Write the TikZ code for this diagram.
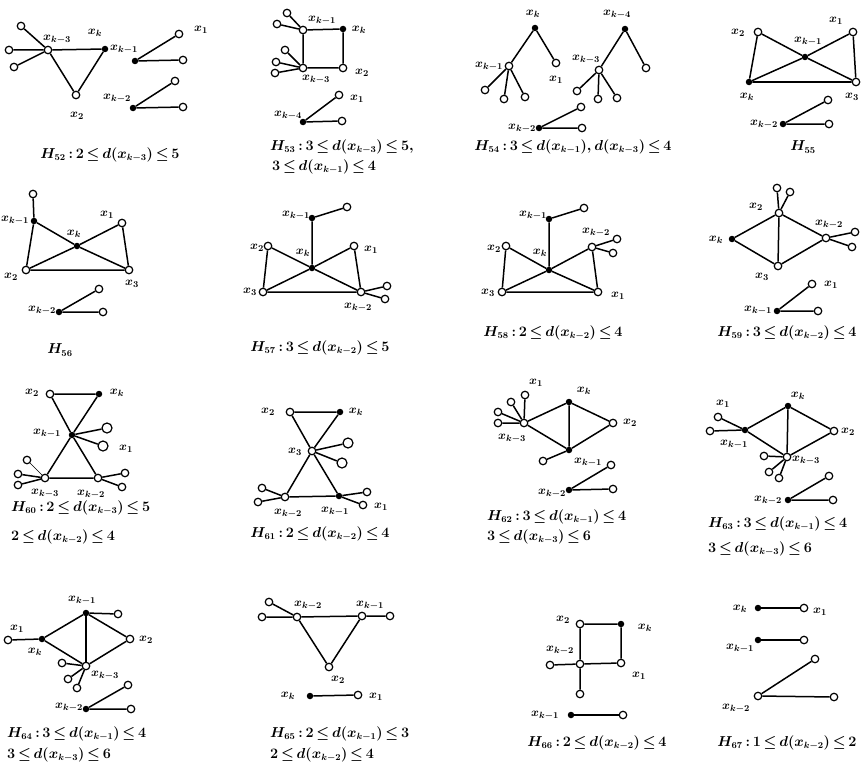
\documentclass[tikz,border=0pt]{standalone}
\usepackage{amsmath,amssymb}
\usepackage{tikz}
\usetikzlibrary{positioning}
\newcommand\tightmath{\thickmuskip=3mu\relax\medmuskip=2mu\relax}
\tikzset{
    every picture/.style={x=1pt, y=-1pt},
    % vertex styles
    openv/.style={circle,draw=black,fill=white,line width=1.2pt,inner sep=0pt,minimum size=7.5pt},
    bigv/.style={openv,minimum size=10pt},
    solidv/.style={circle,fill=black,inner sep=0pt,minimum size=6.5pt},
    % texts
    vlabel/.style={inner sep=0pt,font=\fontsize{13}{15}\selectfont\boldmath},
    caption/.style={inner sep=0pt,font=\fontsize{13.5}{16}\selectfont\boldmath\tightmath},
    % lines
    edge/.style={line width=1.5pt},
    thinedge/.style={line width=0.6pt}
}

\begin{document}
\begin{tikzpicture}
    \useasboundingbox (0,0) rectangle (862,768);

    % H52
    \node[openv] (a3) at (48,50) {};
    \node[openv] (ap1) at (21,26) {};
    \node[openv] (ap2) at (9,50) {};
    \node[openv] (ap3) at (14,67) {};
    \node[solidv] (ak) at (105,49) {};
    \node[openv] (a2) at (76,95) {};
    \node[solidv] (ak1) at (135,61) {};
    \node[openv] (aq1) at (179,34) {};
    \node[openv] (aq2) at (183,60) {};
    \node[solidv] (ak2) at (133,108) {};
    \node[openv] (ar1) at (175,81) {};
    \node[openv] (ar2) at (183,107) {};
    \node[vlabel] (a3L) at (57,39) {$x_{k-3}$};
    \node[vlabel] (akL) at (95,33) {$x_k$};
    \node[vlabel] (a2L) at (77,116) {$x_2$};
    \node[vlabel] (ak1L) at (124,49) {$x_{k-1}$};
    \node[vlabel] (a1L) at (201,30) {$x_1$};
    \node[vlabel] (ak2L) at (117,98) {$x_{k-2}$};
    \node[caption] (aC) at (110,155) {$H_{52}:2\le d(x_{k-3})\le 5$};
    \draw[edge] (a3) -- (ap1) (a3) -- (ap2) (a3) -- (ap3);
    \draw[edge] (a3) -- (ak) -- (a2) -- (a3);
    \draw[edge] (ak1) -- (aq1) (ak1) -- (aq2);
    \draw[edge] (ak2) -- (ar1) (ak2) -- (ar2);

    % H53
    \node[openv] (b1) at (303,30) {};
    \node[solidv] (bk) at (343,29) {};
    \node[openv] (b2) at (343,68) {};
    \node[openv] (b3) at (303,68) {};
    \node[openv] (bp1) at (287,13) {};
    \node[openv] (bp2) at (277,24) {};
    \node[openv] (bq1) at (285,50) {};
    \node[openv] (bq2) at (276,62) {};
    \node[openv] (bq3) at (275,73) {};
    \node[solidv] (b4) at (303,122) {};
    \node[openv] (br1) at (339,95) {};
    \node[openv] (br2) at (342,121) {};
    \node[vlabel] (b1L) at (322,20) {$x_{k-1}$};
    \node[vlabel] (bkL) at (359,30) {$x_k$};
    \node[vlabel] (b2L) at (362,73) {$x_2$};
    \node[vlabel] (b3L) at (316,79) {$x_{k-3}$};
    \node[vlabel] (b4L) at (288,115) {$x_{k-4}$};
    \node[vlabel] (bx1L) at (357,99) {$x_1$};
    \node[caption,anchor=west] (bC1) at (270,147) {$H_{53}:3\le d(x_{k-3})\le 5,$};
    \node[caption,anchor=west] (bC2) at (272,167) {$3\le d(x_{k-1})\le 4$};
    \draw[edge] (b1) -- (bk) -- (b2) -- (b3) -- (b1);
    \draw[edge] (b1) -- (bp1) (b1) -- (bp2);
    \draw[edge] (b3) -- (bq1) (b3) -- (bq2) (b3) -- (bq3);
    \draw[edge] (b4) -- (br1) (b4) -- (br2);

    % H54
    \node[solidv] (ck) at (535,28) {};
    \node[openv] (c1) at (509,66) {};
    \node[openv] (cx1) at (556,63) {};
    \node[openv] (cp1) at (485,90) {};
    \node[openv] (cp2) at (504,99) {};
    \node[openv] (cp3) at (525,97) {};
    \node[solidv] (c4) at (625,29) {};
    \node[openv] (c3) at (599,70) {};
    \node[openv] (cr) at (646,68) {};
    \node[openv] (cq1) at (577,91) {};
    \node[openv] (cq2) at (598,99) {};
    \node[openv] (cq3) at (617,98) {};
    \node[solidv] (c2) at (539,128) {};
    \node[openv] (cs1) at (581,107) {};
    \node[openv] (cs2) at (582,128) {};
    \node[vlabel] (ckL) at (533,14) {$x_k$};
    \node[vlabel] (c1L) at (489,66) {$x_{k-1}$};
    \node[vlabel] (cx1L) at (556,80) {$x_1$};
    \node[vlabel] (c4L) at (617,14) {$x_{k-4}$};
    \node[vlabel] (c3L) at (586,59) {$x_{k-3}$};
    \node[vlabel] (c2L) at (522,128) {$x_{k-2}$};
    \node[caption] (cC) at (573,147) {$H_{54}:3\le d(x_{k-1}),d(x_{k-3})\le 4$};
    \draw[edge] (c1) -- (ck) -- (cx1);
    \draw[edge] (c1) -- (cp1) (c1) -- (cp2) (c1) -- (cp3);
    \draw[edge] (c3) -- (c4) -- (cr);
    \draw[edge] (c3) -- (cq1) (c3) -- (cq2) (c3) -- (cq3);
    \draw[edge] (c2) -- (cs1) (c2) -- (cs2);

    % H55
    \node[openv] (d2) at (758,32) {};
    \node[openv] (d1) at (853,32) {};
    \node[solidv] (dc) at (805,57) {};
    \node[solidv] (dk) at (749,82) {};
    \node[openv] (d3) at (856,82) {};
    \node[solidv] (dk2) at (783,124) {};
    \node[openv] (ds1) at (828,100) {};
    \node[openv] (ds2) at (829,124) {};
    \node[vlabel] (d2L) at (738,33) {$x_2$};
    \node[vlabel] (d1L) at (836,21) {$x_1$};
    \node[vlabel] (dcL) at (808,41) {$x_{k-1}$};
    \node[vlabel] (dkL) at (747,97) {$x_k$};
    \node[vlabel] (d3L) at (852,97) {$x_3$};
    \node[vlabel] (dk2L) at (764,124) {$x_{k-2}$};
    \node[caption] (dC) at (803,147) {$H_{55}$};
    \draw[edge] (d2) -- (dk) -- (d3) -- (d1) -- (dc) -- (dk);
    \draw[edge] (d2) -- (dc) -- (d3);
    \draw[edge] (dk2) -- (ds1) (dk2) -- (ds2);

    % H56
    \node[openv] (ep) at (33,194) {};
    \node[solidv] (ek1) at (34,221) {};
    \node[solidv] (ek) at (77,246) {};
    \node[openv] (e1) at (122,223) {};
    \node[openv] (e2) at (26,270) {};
    \node[openv] (e3) at (129,270) {};
    \node[solidv] (ek2) at (59,312) {};
    \node[openv] (es1) at (99,289) {};
    \node[openv] (es2) at (103,312) {};
    \node[vlabel] (ek1L) at (15,220) {$x_{k-1}$};
    \node[vlabel] (ekL) at (74,234) {$x_k$};
    \node[vlabel] (e1L) at (107,215) {$x_1$};
    \node[vlabel] (e2L) at (11,277) {$x_2$};
    \node[vlabel] (e3L) at (132,284) {$x_3$};
    \node[vlabel] (ek2L) at (42,310) {$x_{k-2}$};
    \node[caption] (eC) at (60,350) {$H_{56}$};
    \draw[edge] (ep) -- (ek1) -- (e2) -- (e3) -- (e1) -- (ek) -- (e2);
    \draw[edge] (ek1) -- (ek) -- (e3);
    \draw[edge] (ek2) -- (es1) (ek2) -- (es2);

    % H57
    \node[solidv] (fk1) at (312,218) {};
    \node[openv] (fp) at (347,207) {};
    \node[solidv] (fk) at (312,268) {};
    \node[openv] (f2) at (268,246) {};
    \node[openv] (f1) at (354,246) {};
    \node[openv] (f3) at (263,292) {};
    \node[openv] (f4) at (361,292) {};
    \node[openv] (fq1) at (387,286) {};
    \node[openv] (fq2) at (385,299) {};
    \node[vlabel] (fk1L) at (296,215) {$x_{k-1}$};
    \node[vlabel] (fkL) at (303,253) {$x_k$};
    \node[vlabel] (f2L) at (257,248) {$x_2$};
    \node[vlabel] (f1L) at (371,250) {$x_1$};
    \node[vlabel] (f3L) at (250,292) {$x_3$};
    \node[vlabel] (f4L) at (358,307) {$x_{k-2}$};
    \node[caption] (fC) at (320,348) {$H_{57}:3\le d(x_{k-2})\le 5$};
    \draw[edge] (fp) -- (fk1) -- (fk);
    \draw[edge] (f3) -- (f2) -- (fk) -- (f4) -- (f1) -- (fk) -- (f3) -- (f4);
    \draw[edge] (f4) -- (fq1) (f4) -- (fq2);

    % H58
    \node[solidv] (gk1) at (549,219) {};
    \node[openv] (gp) at (584,208) {};
    \node[solidv] (gk) at (549,270) {};
    \node[openv] (g2) at (506,246) {};
    \node[openv] (g4) at (592,247) {};
    \node[openv] (gq1) at (617,239) {};
    \node[openv] (gq2) at (613,253) {};
    \node[openv] (g3) at (502,292) {};
    \node[openv] (g1) at (598,292) {};
    \node[vlabel] (gk1L) at (533,215) {$x_{k-1}$};
    \node[vlabel] (gkL) at (540,253) {$x_k$};
    \node[vlabel] (g2L) at (494,249) {$x_2$};
    \node[vlabel] (g4L) at (596,232) {$x_{k-2}$};
    \node[vlabel] (g3L) at (488,293) {$x_3$};
    \node[vlabel] (g1L) at (618,296) {$x_1$};
    \node[caption] (gC) at (553,333) {$H_{58}:2\le d(x_{k-2})\le 4$};
    \draw[edge] (gp) -- (gk1) -- (gk);
    \draw[edge] (g3) -- (g2) -- (gk) -- (g1) -- (g4) -- (gk) -- (g3) -- (g1);
    \draw[edge] (g4) -- (gq1) (g4) -- (gq2);

    % H59
    \node[openv] (h2) at (779,213) {};
    \node[openv] (hp1) at (777,188) {};
    \node[openv] (hp2) at (790,192) {};
    \node[solidv] (hk) at (732,239) {};
    \node[openv] (h4) at (826,238) {};
    \node[openv] (hq1) at (855,232) {};
    \node[openv] (hq2) at (852,247) {};
    \node[openv] (h3) at (778,266) {};
    \node[solidv] (hk1) at (777,311) {};
    \node[openv] (hs1) at (812,284) {};
    \node[openv] (hs2) at (818,311) {};
    \node[vlabel] (h2L) at (756,207) {$x_2$};
    \node[vlabel] (hkL) at (716,240) {$x_k$};
    \node[vlabel] (h4L) at (829,224) {$x_{k-2}$};
    \node[vlabel] (h3L) at (762,277) {$x_3$};
    \node[vlabel] (hk1L) at (758,310) {$x_{k-1}$};
    \node[vlabel] (hx1L) at (831,285) {$x_1$};
    \node[caption] (hC) at (787,333) {$H_{59}:3\le d(x_{k-2})\le 4$};
    \draw[edge] (h3) -- (hk) -- (h2) -- (h3) -- (h4) -- (h2);
    \draw[edge] (h2) -- (hp1) (h2) -- (hp2);
    \draw[edge] (h4) -- (hq1) (h4) -- (hq2);
    \draw[edge] (hk1) -- (hs1) (hk1) -- (hs2);

    % H60
    \node[openv] (i2) at (50,394) {};
    \node[solidv] (ik) at (99,394) {};
    \node[solidv] (ic) at (72,435) {};
    \node[bigv] (ip1) at (107,428) {};
    \node[bigv] (ip2) at (103,446) {};
    \node[openv] (i3) at (45,478) {};
    \node[openv] (i4) at (98,478) {};
    \node[openv] (iq1) at (27,460) {};
    \node[openv] (iq2) at (18,474) {};
    \node[openv] (iq3) at (18,485) {};
    \node[openv] (ir1) at (125,473) {};
    \node[openv] (ir2) at (122,487) {};
    \node[vlabel] (i2L) at (32,393) {$x_2$};
    \node[vlabel] (ikL) at (117,393) {$x_k$};
    \node[vlabel] (icL) at (47,433) {$x_{k-1}$};
    \node[vlabel] (ix1L) at (126,449) {$x_1$};
    \node[vlabel] (i3L) at (45,493) {$x_{k-3}$};
    \node[vlabel] (i4L) at (91,494) {$x_{k-2}$};
    \node[caption,anchor=west] (iC1) at (11,508) {$H_{60}:2\le d(x_{k-3})\le 5$};
    \node[caption,anchor=west] (iC2) at (11,537) {$2\le d(x_{k-2})\le 4$};
    \draw[edge] (i2) -- (ik) -- (ic) -- (i3) -- (i4) -- (ic) -- (i2);
    \draw[edge] (ic) -- (ip1) (ic) -- (ip2);
    \draw[thinedge] (i3) -- (iq1);
    \draw[edge] (i3) -- (iq2) (i3) -- (iq3);
    \draw[edge] (i4) -- (ir1) (i4) -- (ir2);

    % H61
    \node[openv] (j2) at (290,412) {};
    \node[solidv] (jk) at (340,412) {};
    \node[openv] (jc) at (312,451) {};
    \node[bigv] (jp1) at (348,443) {};
    \node[bigv] (jp2) at (342,463) {};
    \node[openv] (j4) at (285,497) {};
    \node[solidv] (j1) at (339,496) {};
    \node[openv] (jq1) at (262,488) {};
    \node[openv] (jq2) at (258,502) {};
    \node[openv] (jr1) at (367,492) {};
    \node[openv] (jr2) at (363,505) {};
    \node[vlabel] (j2L) at (268,412) {$x_2$};
    \node[vlabel] (jkL) at (356,412) {$x_k$};
    \node[vlabel] (jcL) at (295,452) {$x_3$};
    \node[vlabel] (j4L) at (288,513) {$x_{k-2}$};
    \node[vlabel] (j1L) at (335,511) {$x_{k-1}$};
    \node[vlabel] (jx1L) at (381,507) {$x_1$};
    \node[caption] (jC) at (320,534) {$H_{61}:2\le d(x_{k-2})\le 4$};
    \draw[edge] (j2) -- (jk) -- (jc) -- (j4) -- (j1) -- (jc) -- (j2);
    \draw[edge] (jc) -- (jp1) (jc) -- (jp2);
    \draw[edge] (j4) -- (jq1) (j4) -- (jq2);
    \draw[edge] (j1) -- (jr1) (j1) -- (jr2);

    % H62
    \node[openv] (k3) at (524,423) {};
    \node[solidv] (kk) at (569,402) {};
    \node[openv] (k2) at (613,423) {};
    \node[solidv] (k1) at (569,450) {};
    \node[openv] (kp) at (543,461) {};
    \node[openv] (kq1) at (525,395) {};
    \node[openv] (kq2) at (511,402) {};
    \node[openv] (kq3) at (498,412) {};
    \node[openv] (kq4) at (498,423) {};
    \node[solidv] (k4) at (569,490) {};
    \node[openv] (ks1) at (611,465) {};
    \node[openv] (ks2) at (613,489) {};
    \node[vlabel] (kx1L) at (536,383) {$x_1$};
    \node[vlabel] (kkL) at (584,391) {$x_k$};
    \node[vlabel] (k2L) at (630,423) {$x_2$};
    \node[vlabel] (k3L) at (512,438) {$x_{k-3}$};
    \node[vlabel] (k1L) at (588,462) {$x_{k-1}$};
    \node[vlabel] (k4L) at (552,493) {$x_{k-2}$};
    \node[caption,anchor=west] (kC1) at (487,517) {$H_{62}:3\le d(x_{k-1})\le 4$};
    \node[caption,anchor=west] (kC2) at (487,537) {$3\le d(x_{k-3})\le 6$};
    \draw[edge] (k3) -- (kk) -- (k2) -- (k1) -- (k3);
    \draw[edge] (kk) -- (k1) -- (kp);
    \draw[edge] (k3) -- (kq1) (k3) -- (kq2) (k3) -- (kq3) (k3) -- (kq4);
    \draw[edge] (k4) -- (ks1) (k4) -- (ks2);

    % H63
    \node[solidv] (l1) at (745,430) {};
    \node[openv] (lp1) at (718,417) {};
    \node[openv] (lp2) at (710,431) {};
    \node[solidv] (lk) at (788,406) {};
    \node[openv] (l2) at (834,431) {};
    \node[openv] (l3) at (787,457) {};
    \node[openv] (lq1) at (764,456) {};
    \node[openv] (lq2) at (769,472) {};
    \node[openv] (lq3) at (779,478) {};
    \node[solidv] (l4) at (788,500) {};
    \node[openv] (ls1) at (829,476) {};
    \node[openv] (ls2) at (833,500) {};
    \node[vlabel] (lx1L) at (723,404) {$x_1$};
    \node[vlabel] (l1L) at (734,444) {$x_{k-1}$};
    \node[vlabel] (lkL) at (798,396) {$x_k$};
    \node[vlabel] (l2L) at (848,432) {$x_2$};
    \node[vlabel] (l3L) at (806,460) {$x_{k-3}$};
    \node[vlabel] (l4L) at (768,500) {$x_{k-2}$};
    \node[caption,anchor=west] (lC1) at (708,524) {$H_{63}:3\le d(x_{k-1})\le 4$};
    \node[caption,anchor=west] (lC2) at (708,549) {$3\le d(x_{k-3})\le 6$};
    \draw[edge] (l1) -- (lk) -- (l2) -- (l3) -- (l1);
    \draw[edge] (lk) -- (l3);
    \draw[edge] (l1) -- (lp1) (l1) -- (lp2);
    \draw[edge] (l3) -- (lq1) (l3) -- (lq2) (l3) -- (lq3);
    \draw[edge] (l4) -- (ls1) (l4) -- (ls2);

    % H64
    \node[solidv] (mk1) at (86,613) {};
    \node[openv] (mp) at (118,614) {};
    \node[solidv] (mk) at (42,639) {};
    \node[openv] (mx1) at (8,640) {};
    \node[openv] (m2) at (130,639) {};
    \node[openv] (m3) at (86,666) {};
    \node[openv] (mq1) at (62,663) {};
    \node[openv] (mq2) at (68,679) {};
    \node[openv] (mq3) at (77,688) {};
    \node[solidv] (m4) at (86,709) {};
    \node[openv] (ms1) at (128,685) {};
    \node[openv] (ms2) at (131,709) {};
    \node[vlabel] (mk1L) at (82,600) {$x_{k-1}$};
    \node[vlabel] (mx1L) at (17,629) {$x_1$};
    \node[vlabel] (mkL) at (35,652) {$x_k$};
    \node[vlabel] (m2L) at (146,640) {$x_2$};
    \node[vlabel] (m3L) at (105,675) {$x_{k-3}$};
    \node[vlabel] (m4L) at (69,707) {$x_{k-2}$};
    \node[caption,anchor=west] (mC1) at (7,734) {$H_{64}:3\le d(x_{k-1})\le 4$};
    \node[caption,anchor=west] (mC2) at (7,755) {$3\le d(x_{k-3})\le 6$};
    \draw[edge] (mk) -- (mk1) -- (m2) -- (m3) -- (mk);
    \draw[edge] (mk1) -- (m3);
    \draw[edge] (mk1) -- (mp) (mk) -- (mx1);
    \draw[edge] (m3) -- (mq1) (m3) -- (mq2) (m3) -- (mq3);
    \draw[edge] (m4) -- (ms1) (m4) -- (ms2);

    % H65
    \node[openv] (n2a) at (297,617) {};
    \node[openv] (n1a) at (362,616) {};
    \node[openv] (np1) at (269,602) {};
    \node[openv] (np2) at (262,617) {};
    \node[openv] (nq) at (390,616) {};
    \node[openv] (n2) at (329,667) {};
    \node[solidv] (nk) at (310,696) {};
    \node[openv] (nx1) at (358,695) {};
    \node[vlabel] (n2aL) at (308,605) {$x_{k-2}$};
    \node[vlabel] (n1aL) at (370,605) {$x_{k-1}$};
    \node[vlabel] (n2L) at (338,680) {$x_2$};
    \node[vlabel] (nkL) at (288,696) {$x_k$};
    \node[vlabel] (nx1L) at (376,697) {$x_1$};
    \node[caption,anchor=west] (nC1) at (270,734) {$H_{65}:2\le d(x_{k-1})\le 3$};
    \node[caption,anchor=west] (nC2) at (270,755) {$2\le d(x_{k-2})\le 4$};
    \draw[edge] (np2) -- (n2a) -- (n1a) -- (nq);
    \draw[edge] (np1) -- (n2a) -- (n2) -- (n1a);
    \draw[edge] (nk) -- (nx1);

    % H66
    \node[openv] (o2) at (580,624) {};
    \node[solidv] (ok) at (621,624) {};
    \node[openv] (o4) at (580,664) {};
    \node[openv] (o1) at (621,663) {};
    \node[openv] (op1) at (550,665) {};
    \node[openv] (op2) at (580,694) {};
    \node[solidv] (ok1) at (571,715) {};
    \node[openv] (oq) at (623,715) {};
    \node[vlabel] (o2L) at (563,620) {$x_2$};
    \node[vlabel] (okL) at (645,628) {$x_k$};
    \node[vlabel] (o4L) at (560,650) {$x_{k-2}$};
    \node[vlabel] (o1L) at (639,676) {$x_1$};
    \node[vlabel] (ok1L) at (545,715) {$x_{k-1}$};
    \node[caption] (oC) at (597,743) {$H_{66}:2\le d(x_{k-2})\le 4$};
    \draw[edge] (o2) -- (ok) -- (o1) -- (o4) -- (o2);
    \draw[edge] (o4) -- (op1) (o4) -- (op2);
    \draw[edge] (ok1) -- (oq);

    % H67
    \node[solidv] (pk) at (758,608) {};
    \node[openv] (px1) at (804,608) {};
    \node[solidv] (pk1) at (758,640) {};
    \node[openv] (pq) at (804,640) {};
    \node[openv] (p2) at (758,696) {};
    \node[openv] (pr1) at (815,659) {};
    \node[openv] (pr2) at (834,697) {};
    \node[vlabel] (pkL) at (740,609) {$x_k$};
    \node[vlabel] (px1L) at (820,612) {$x_1$};
    \node[vlabel] (pk1L) at (740,648) {$x_{k-1}$};
    \node[vlabel] (p2L) at (736,708) {$x_{k-2}$};
    \node[caption] (pC) at (787,743) {$H_{67}:1\le d(x_{k-2})\le 2$};
    \draw[edge] (pk) -- (px1);
    \draw[edge] (pk1) -- (pq);
    \draw[edge] (p2) -- (pr1) (p2) -- (pr2);

\end{tikzpicture}
\end{document}
